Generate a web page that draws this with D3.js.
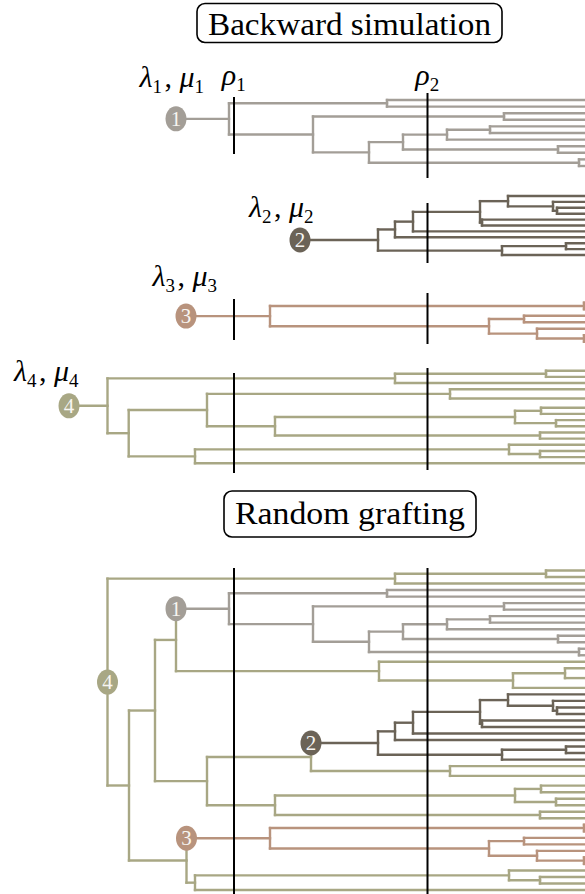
<!DOCTYPE html>
<html>
<head>
<meta charset="utf-8">
<script src="https://cdn.jsdelivr.net/npm/d3@7"></script>
<style>
  body { margin: 0; background: #fff; }
  svg { display: block; }
</style>
</head>
<body>
<div id="chart"></div>
<script>
// ages before present (0 = present). a tip is 0, an inner node is [age, upper, lower]
const tree1 = [74.2, [42.6, 0, 0], [57.4, [19.2, 0, 0], [46.2, [39.4, [30.6, [22, 0, 0], 0], [8.4, 0, 0]], [4.2, 0, 0]]]];
const tree2 = [44.4, [41, [37.4, [24, [18.4, 0, [9.4, 0, [8.6, 0, 0]]], [23.6, 0, 0]], 0], 0], [19.6, [6.8, 0, 0], 0]];
const tree3 = [66, [3.2, 0, 0], [22.2, [15.2, 0, 0], [12.6, 0, [3.2, 0, 0]]]];

// clades of tree 4, used again in the grafted tree
const tree4Top = [41, [10.8, 0, 0], 0];
const tree4A = [30, 0, [2, 0, 0]];
const tree4B = [65, [17, [11.8, 0, 0], [8.8, 0, 0]], [12, 0, 0]];
const tree4C = [81, [18.2, 0, [12, 0, 0]], 0];
const tree4 = [98.5, tree4Top, [94.26, [78.6, tree4A, tree4B], tree4C]];

const trees = [tree1, tree2, tree3, tree4];
const originAges = [84.8, 60, 82.8, 106.2];   // where each simulation starts (circle)
const rhoAges = [73.2, 34.5];                 // sampling times rho_1, rho_2

// random grafting result: trees 1-3 hung on the tree 4 backbone
const extraClade = [44.2, 0, [17.4, [7, 0, [2, 0, 0]], 0]];
const graftAges = [84.8, 57.8, 82.7];
const grafted = [98.5, tree4Top,
  [94.2,
    [89, { graft: 1, next: extraClade }, [78.6, { graft: 2, next: tree4A }, tree4B]],
    { graft: 3, next: tree4C }]];

const colors = ['#a39e97', '#6b6357', '#b8937d', '#a8a784'];

// layout
const width = 585, height = 894;
const serif = '"Liberation Serif", "Times New Roman", Times, "DejaVu Serif", "Noto Serif", serif';

const rows = [
  { k: 1, tips: [100, 166], rho: [[97, 154], [93, 178]], lab: [-3, -32] },
  { k: 2, tips: [196, 255], rho: [null, [203, 263]], lab: [-17.5, -23] },
  { k: 3, tips: [302.7, 341.7], rho: [[299, 340], [293, 344]], lab: [0, -30] },
  { k: 4, tips: [370.7, 463.3], rho: [[373, 473], [368, 470]], lab: [-21.5, -25] }
];
const graftRow = { tips: [570.5, 890], rho: [[568, 894], [568, 894]] };

const x = d3.scaleLinear().domain([100, 0]).range([100, 600]);

const svg = d3.select('#chart').append('svg')
  .attr('width', width)
  .attr('height', height)
  .attr('viewBox', [0, 0, width, height]);

// spec -> plain node objects for d3.hierarchy
function build(spec, color) {
  if (spec === 0) return { age: 0, color };
  if (Array.isArray(spec)) {
    return { age: spec[0], color, children: spec.slice(1).map(s => build(s, color)) };
  }
  const k = spec.graft;
  const sub = build(trees[k - 1], colors[k - 1]);
  sub.circle = k;
  return { age: graftAges[k - 1], color, children: [sub, build(spec.next, color)] };
}

function layout(rootObj, tipRange) {
  const root = d3.hierarchy(rootObj);
  const leaves = root.leaves();
  const y = d3.scaleLinear().domain([0, leaves.length - 1]).range(tipRange);
  leaves.forEach((l, i) => { l.y = y(i); });
  root.eachAfter(n => {
    n.x = x(n.data.age);
    if (n.children) n.y = d3.mean([n.children[0].y, n.children[n.children.length - 1].y]);
  });
  return root;
}

function drawTree(root, rhoSpans) {
  const g = svg.append('g');
  const nodes = root.descendants();

  // horizontal branches
  g.selectAll('line.h')
    .data(nodes.filter(n => n.parent))
    .join('line')
    .attr('x1', n => n.parent.x).attr('x2', n => n.x)
    .attr('y1', n => n.y).attr('y2', n => n.y)
    .attr('stroke', n => n.data.color);

  // vertical connectors
  g.selectAll('line.v')
    .data(nodes.filter(n => n.children && n.children.length > 1))
    .join('line')
    .attr('x1', n => n.x).attr('x2', n => n.x)
    .attr('y1', n => n.children[0].y)
    .attr('y2', n => n.children[n.children.length - 1].y)
    .attr('stroke', n => n.data.color);

  g.selectAll('line')
    .attr('stroke-width', 2.4)
    .attr('stroke-linecap', 'square');

  // sampling lines
  g.selectAll('line.rho')
    .data(rhoSpans.map((s, i) => ({ s, age: rhoAges[i] })).filter(d => d.s))
    .join('line')
    .attr('class', 'rho')
    .attr('x1', d => x(d.age)).attr('x2', d => x(d.age))
    .attr('y1', d => d.s[0]).attr('y2', d => d.s[1])
    .attr('stroke', '#000')
    .attr('stroke-width', 2);

  // numbered nodes
  const circ = nodes.filter(n => n.data.circle).map(n => ({
    k: n.data.circle,
    cx: n.parent ? n.parent.x : n.x,
    cy: n.y
  }));
  const c = g.selectAll('g.c').data(circ).join('g')
    .attr('transform', d => `translate(${d.cx},${d.cy})`);
  c.append('ellipse')
    .attr('rx', 10.5).attr('ry', 12.5)
    .attr('fill', d => colors[d.k - 1]);
  c.append('text')
    .attr('text-anchor', 'middle')
    .attr('dy', 7)
    .attr('font-family', serif)
    .attr('font-size', 21)
    .attr('fill', '#f7f5f1')
    .text(d => d.k);
  return circ;
}

function mathLabel(sel, parts) {
  // parts: [symbol, subscript] pairs
  parts.forEach(([sym, sub], i) => {
    if (i > 0) sel.append('tspan').attr('font-style', 'normal').text(', ');
    sel.append('tspan').attr('font-style', 'italic').text(sym);
    sel.append('tspan').attr('font-size', 19).attr('dy', 6).text(sub);
    sel.append('tspan').attr('dy', -6).text('\u200a');
  });
}

// backward simulation rows
rows.forEach(r => {
  const obj = build(trees[r.k - 1], colors[r.k - 1]);
  obj.circle = r.k;
  const root = layout({ age: originAges[r.k - 1], color: colors[r.k - 1], children: [obj] }, r.tips);
  const circ = drawTree(root, r.rho)[0];
  const t = svg.append('text')
    .attr('x', circ.cx + r.lab[0])
    .attr('y', circ.cy + r.lab[1])
    .attr('text-anchor', 'middle')
    .attr('font-family', serif)
    .attr('font-size', 30);
  mathLabel(t, [['λ', r.k], ['μ', r.k]]);
});

// grafted tree
const gObj = build(grafted, colors[3]);
gObj.circle = 4;
drawTree(layout(gObj, graftRow.tips), graftRow.rho);

// rho labels
rhoAges.forEach((a, i) => {
  const t = svg.append('text')
    .attr('x', x(a) + 1)
    .attr('y', 85)
    .attr('text-anchor', 'middle')
    .attr('font-family', serif)
    .attr('font-size', 30);
  mathLabel(t, [['ρ', i + 1]]);
});

// framed titles
function title(text, cx, top, h, w, base) {
  svg.append('rect')
    .attr('x', cx - w / 2).attr('y', top)
    .attr('width', w).attr('height', h)
    .attr('rx', 8)
    .attr('fill', 'none')
    .attr('stroke', '#000')
    .attr('stroke-width', 1.6);
  svg.append('text')
    .attr('x', cx).attr('y', base)
    .attr('text-anchor', 'middle')
    .attr('font-family', serif)
    .attr('font-size', 32)
    .attr('textLength', w - 22)
    .attr('lengthAdjust', 'spacingAndGlyphs')
    .text(text);
}
title('Backward simulation', 349.5, 3.5, 39, 305, 35);
title('Random grafting', 350, 491, 46, 252, 524);
</script>
</body>
</html>
